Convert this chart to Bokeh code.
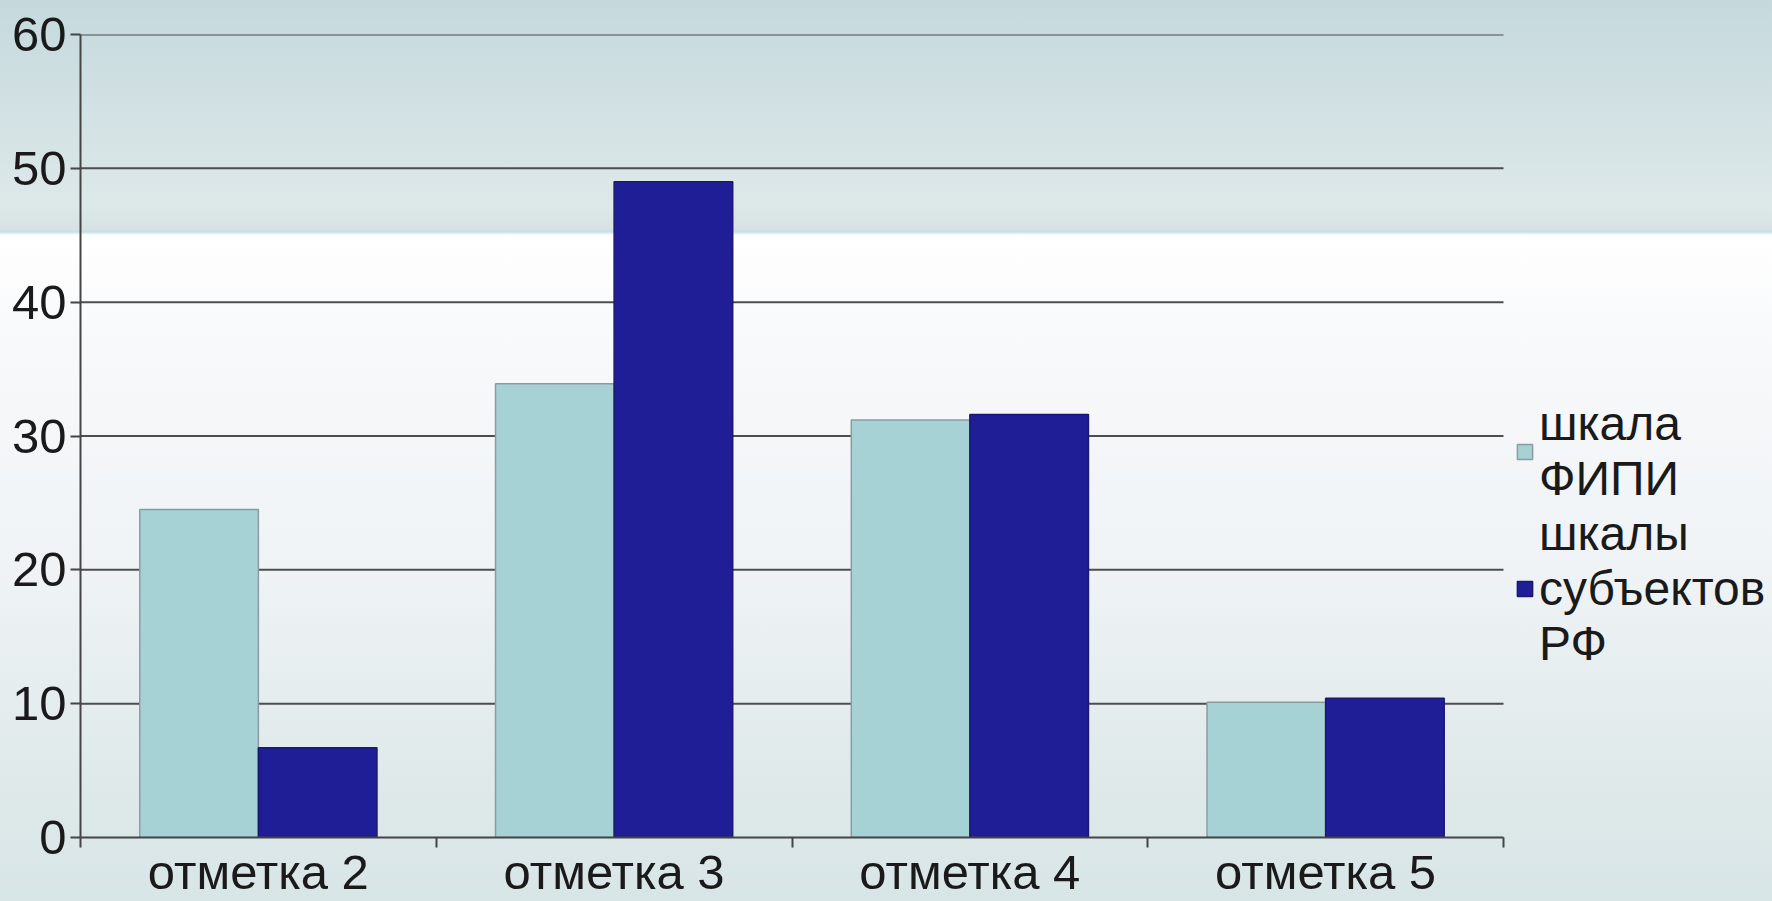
import numpy as np
from bokeh.plotting import figure
from bokeh.models import (ColumnDataSource, Range1d, FixedTicker, Legend, LegendItem)
from bokeh.embed import file_html
from bokeh.resources import INLINE

# ---- data ----
categories = ["отметка 2", "отметка 3", "отметка 4", "отметка 5"]
fipi_values = [24.5, 33.9, 31.2, 10.1]
subj_values = [6.7, 49.0, 31.6, 10.4]
series_labels = ["шкала\nФИПИ", "шкалы\nсубъектов\nРФ"]
y_ticks = [0, 10, 20, 30, 40, 50, 60]

FONT = "Liberation Sans"
TXT = "#1a1a1a"
LIGHT = "#a6d2d6"
DARK = "#1f1e96"
AX = "#454545"

W, H = 1772, 901
LEFT = 80
PLOT_W = 1423          # pixel width occupied by the categories
ncat = len(categories)
x_end = ncat * (W - LEFT) / PLOT_W   # frame extends to the right edge (room for legend)

idx = np.arange(ncat)
src = ColumnDataSource(dict(
    x1=idx + 0.5 - 1 / 6, x2=idx + 0.5 + 1 / 6,
    fipi=fipi_values, subj=subj_values, cat=categories))
grid_src = ColumnDataSource(dict(y=y_ticks[1:], x0=[0] * (len(y_ticks) - 1),
                                 x1=[ncat] * (len(y_ticks) - 1)))

p = figure(width=W, height=H, output_backend="svg", toolbar_location=None,
           x_range=Range1d(0, x_end), y_range=Range1d(0, 60))
p.min_border_left = LEFT
p.min_border_right = 0
p.min_border_top = 34
p.min_border_bottom = 60
p.outline_line_color = None
p.background_fill_alpha = 0
p.border_fill_alpha = 0
p.styles = {"background": "linear-gradient(to bottom, #c5d9dc 0px, #dde8e9 205px, "
                          "#d6e2e3 229px, #c6e2ea 232px, #ffffff 235px, #f8f9fb 340px, "
                          "#eff3f5 570px, #dfe9ea 780px, #d8e5e6 901px)"}

# horizontal grid lines limited to the category area
p.xgrid.visible = False
p.ygrid.visible = False
p.segment(x0="x0", x1="x1", y0="y", y1="y", source=grid_src,
          line_color="#4d4d4d", line_width=2)

r1 = p.vbar(x="x1", top="fipi", width=1 / 3, source=src, fill_color=LIGHT,
            line_color="#8c9c9e", line_width=1.5)
r2 = p.vbar(x="x2", top="subj", width=1 / 3, source=src, fill_color=DARK,
            line_color="#1a1870", line_width=1.5)

# y axis
ya = p.yaxis[0]
ya.ticker = FixedTicker(ticks=y_ticks, minor_ticks=[])
ya.axis_line_color = AX
ya.axis_line_width = 2
ya.major_tick_line_color = AX
ya.major_tick_line_width = 2
ya.major_tick_out = 10
ya.major_tick_in = 0
ya.minor_tick_line_color = None
ya.major_label_standoff = 4
ya.major_label_text_font = FONT
ya.major_label_text_font_size = "49px"
ya.major_label_text_color = TXT

# x axis: labels at centers, ticks at boundaries
xa = p.xaxis[0]
xa.bounds = (0, ncat)
xa.ticker = FixedTicker(ticks=list(idx + 0.5), minor_ticks=list(range(ncat + 1)))
xa.major_label_overrides = {float(i + 0.5): c for i, c in enumerate(categories)}
xa.axis_line_color = AX
xa.axis_line_width = 2
xa.major_tick_line_color = None
xa.major_tick_out = 0
xa.major_tick_in = 0
xa.minor_tick_line_color = AX
xa.minor_tick_line_width = 2
xa.minor_tick_out = 10
xa.minor_tick_in = 0
xa.major_label_standoff = -3
xa.major_label_text_font = FONT
xa.major_label_text_font_size = "49px"
xa.major_label_text_color = TXT

legend = Legend(items=[LegendItem(label=series_labels[0], renderers=[r1]),
                       LegendItem(label=series_labels[1], renderers=[r2])],
                location=(PLOT_W + 12, 166))
legend.background_fill_alpha = 0
legend.border_line_color = None
legend.padding = 0
legend.margin = 0
legend.spacing = 0
legend.glyph_width = 19
legend.glyph_height = 19
legend.label_standoff = 5
legend.label_text_font = FONT
legend.label_text_font_size = "48px"
legend.label_text_color = TXT
legend.label_text_line_height = 1.12
p.add_layout(legend, "center")

open("out.html", "w").write(file_html(p, INLINE))
